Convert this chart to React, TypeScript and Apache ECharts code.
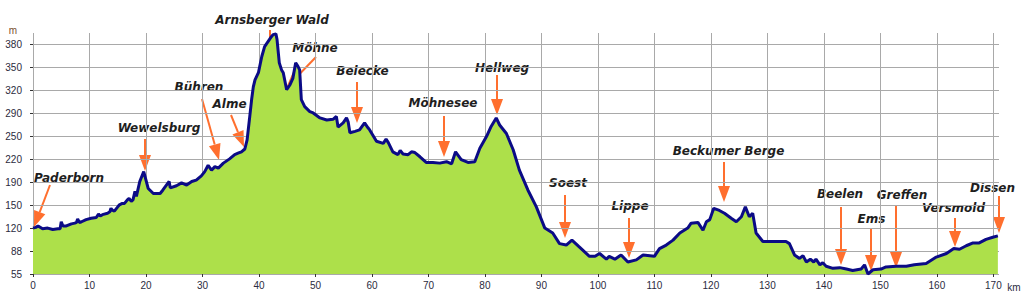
import React, { useEffect, useRef } from "react";
import * as echarts from "echarts";

// ---- data ----
const distanceKm = [
  0, 0.5, 0.9, 1.7, 2.6, 3.5, 4.4, 4.8, 5.0, 5.3, 5.9, 6.8, 7.4, 7.7, 7.9, 8.2, 8.6, 9.4,
  10.3, 11.2, 11.6, 11.9, 12.3, 13.2, 13.6, 13.8, 14.1, 14.4, 15.0, 15.3, 15.8, 16.2, 16.7,
  17.0, 17.4, 17.7, 18.05, 18.3, 18.9, 19.6, 20.4, 21.3, 22.5, 23.0, 24.1, 24.3, 25.4, 26.3,
  27.2, 28.1, 28.9, 29.8, 30.4, 31.0, 31.6, 32.2, 32.8, 33.7, 34.8, 35.7, 36.3, 36.9, 37.5,
  37.9, 38.3, 38.7, 39.0, 39.3, 39.9, 40.5, 41.0, 41.6, 42.2, 42.5, 43.0, 43.2, 43.6, 44.0,
  44.3, 44.9, 45.5, 46.0, 46.5, 46.9, 47.2, 47.5, 48.1, 49.0, 49.6, 50.8, 52.0, 53.1, 53.7,
  54.0, 54.9, 55.5, 55.8, 56.1, 57.0, 57.8, 58.7, 59.3, 59.6, 60.8, 62.0, 62.5, 62.9, 63.7,
  64.6, 65.0, 65.5, 66.4, 67.0, 67.6, 68.5, 69.6, 70.8, 72.0, 73.2, 74.1, 74.8, 75.8, 77.0,
  78.2, 79.1, 80.3, 81.1, 82.0, 82.6, 83.8, 85.0, 86.1, 87.6, 89.1, 90.6, 92.0, 93.2, 94.4,
  95.4, 96.6, 98.5, 99.5, 100.3, 101.5, 102.0, 103.0, 104.1, 105.3, 106.8, 108.0, 110.0,
  110.9, 112.1, 113.3, 114.5, 115.9, 116.5, 117.7, 118.6, 119.2, 119.8, 120.5, 121.5, 122.4,
  123.6, 124.5, 125.4, 126.1, 126.8, 127.4, 128.0, 129.2, 130.4, 133.3, 133.9, 134.8, 135.7,
  136.3, 136.9, 137.6, 138.2, 138.6, 139.3, 139.8, 140.4, 141.6, 142.8, 144.0, 145.1, 146.6,
  147.2, 147.8, 148.7, 150.1, 151.0, 152.8, 154.6, 156.0, 158.1, 159.9, 161.7, 163.0, 164.0,
  165.2, 166.4, 167.5, 168.7, 169.9, 170.8,
];
const elevationM = [
  120, 121, 123, 119, 120, 118, 119, 119, 129, 123, 123, 126, 127, 128, 133, 128, 129, 132,
  134, 135, 140, 137, 139, 141, 143, 148, 145, 144, 150, 153, 155, 155, 160,
  162, 158, 160, 172, 165, 186, 200, 176, 169, 169, 174, 186, 177, 180, 184,
  181, 186, 188, 194, 200, 209, 202, 207, 205, 212, 218, 224, 226, 228, 232,
  245, 273, 302, 320, 330, 340, 363, 377, 384, 391, 394, 395, 387, 354, 344,
  340, 316, 323, 332, 354, 349, 344, 302, 292, 285, 283, 276, 273, 274, 278,
  263, 269, 276, 270, 255, 257, 259, 269, 262, 259, 243, 240, 246, 241, 228,
  224, 230, 225, 224, 228, 227, 221, 213, 213, 212, 214, 211, 228, 217, 213,
  214, 233, 250, 264, 276, 266, 254, 231, 202, 174, 150, 120, 113, 98, 96,
  103, 94, 80, 80, 84, 76, 80, 76, 82, 72, 75, 82, 80,
  91, 96, 103, 113, 120, 127, 128, 117, 129, 132, 148, 145, 141,
  134, 129, 136, 150, 136, 141, 113, 101, 101, 101, 98, 82, 77,
  81, 72, 76, 72, 76, 68, 71, 66, 63, 64, 62, 60, 62,
  68, 55, 61, 62, 65, 66, 66, 68, 70, 79, 84, 91, 90,
  95, 99, 99, 104, 107, 109,
];
const yTickLabels = ["55", "88", "120", "150", "190", "220", "250", "290", "320", "350", "380"];
const xTickValues = [0, 10, 20, 30, 40, 50, 60, 70, 80, 90, 100, 110, 120, 130, 140, 150, 160, 170];
const placeNames = [
  "Paderborn", "Wewelsburg", "Bühren", "Alme", "Arnsberger Wald", "Möhne", "Belecke",
  "Möhnesee", "Hellweg", "Soest", "Lippe", "Beckumer Berge", "Beelen", "Ems", "Greffen",
  "Versmold", "Dissen",
];

// ---- layout of annotations (pixels): label centre, arrow start, arrow tip ----
const annotationLayout = [
  [69, 178, 50, 185, 34, 227],
  [159, 128, 145, 139, 145, 171],
  [199, 87, 202, 99, 219, 160],
  [229.5, 104, 231, 115, 244, 147],
  [272, 20, 270, 30, 270, 82],
  [315, 48, 316, 57, 286, 88],
  [362.5, 71, 357, 82, 357, 123],
  [443, 103, 444, 116, 444, 157],
  [502, 68, 497, 75, 497, 115],
  [568, 183, 565, 195, 565, 238],
  [630, 206, 629, 218, 629, 258],
  [728.5, 151, 724, 162, 724, 202],
  [840, 194, 841, 207, 841, 265],
  [871.5, 219, 871, 229, 871, 271],
  [902, 195, 896, 206, 896, 268],
  [953.5, 208, 955, 218, 955, 247],
  [992.5, 188, 999, 196, 999, 233],
];

const ARROW = "#ff6f2e";

function arrow(x1: number, y1: number, x2: number, y2: number) {
  const dx = x2 - x1;
  const dy = y2 - y1;
  const len = Math.hypot(dx, dy);
  const ux = dx / len;
  const uy = dy / len;
  const headLen = 16;
  const headW = 6;
  const bx = x2 - ux * headLen;
  const by = y2 - uy * headLen;
  return [
    {
      type: "line",
      shape: { x1, y1, x2: bx, y2: by },
      style: { stroke: ARROW, lineWidth: 2 },
      silent: true,
    },
    {
      type: "polygon",
      shape: {
        points: [
          [x2, y2],
          [bx - uy * headW, by + ux * headW],
          [bx + uy * headW, by - ux * headW],
        ],
      },
      style: { fill: ARROW },
      silent: true,
    },
  ];
}

export default function App() {
  const ref = useRef<HTMLDivElement>(null);

  useEffect(() => {
    document.body.style.margin = "0";
    const chart = echarts.init(ref.current!, undefined, { renderer: "svg" });
    const labelColor = "#2b2b40";
    const font = "'Liberation Sans', Arial, sans-serif";

    const graphics: any[] = [];
    placeNames.forEach((name, i) => {
      const [tx, ty, ax1, ay1, ax2, ay2] = annotationLayout[i];
      graphics.push(...arrow(ax1, ay1, ax2, ay2));
      graphics.push({
        type: "text",
        x: tx,
        y: ty,
        silent: true,
        style: {
          text: name,
          fill: "#1e1e1e",
          fontFamily: "'DejaVu Sans', Verdana, sans-serif",
          fontWeight: "bold",
          fontStyle: "italic",
          fontSize: 12,
          align: "center",
          verticalAlign: "middle",
        },
      });
    });
    graphics.push({
      type: "text",
      x: 13,
      y: 30,
      style: {
        text: "m",
        fill: "#7a5030",
        fontFamily: font,
        fontSize: 10,
        align: "center",
        verticalAlign: "middle",
      },
    });
    graphics.push({
      type: "text",
      x: 1014,
      y: 287,
      style: {
        text: "km",
        fill: labelColor,
        fontFamily: font,
        fontSize: 10,
        align: "center",
        verticalAlign: "middle",
      },
    });

    const yLabelIdx = yTickLabels.map((_, i) => i * 2);

    chart.setOption({
      animation: false,
      backgroundColor: "#ffffff",
      grid: { left: 33, right: 25, top: 33, bottom: 24, containLabel: false },
      xAxis: {
        type: "value",
        min: 0,
        max: 171,
        interval: 5,
        axisLine: { show: false },
        axisTick: {
          show: true,
          length: 3,
          customValues: xTickValues,
          lineStyle: { color: "#333" },
        },
        axisLabel: {
          customValues: xTickValues,
          formatter: (v: number) => (v % 10 === 0 && v <= 170 ? String(v) : ""),
          color: labelColor,
          fontSize: 10,
          fontFamily: font,
          margin: 6,
        },
        splitLine: { show: true, lineStyle: { color: "#a9a9a9", width: 1 } },
      },
      yAxis: [
        { type: "value", min: 55, max: 396.25, show: false },
        {
          type: "value",
          min: 0,
          max: 21,
          interval: 1,
          position: "left",
          axisLine: { show: false },
          axisTick: {
            show: true,
            length: 3,
            customValues: yLabelIdx,
            lineStyle: { color: "#333" },
          },
          axisLabel: {
            customValues: yLabelIdx,
            formatter: (v: number) =>
              v % 2 === 0 && v / 2 < yTickLabels.length ? yTickLabels[v / 2] : "",
            color: labelColor,
            fontSize: 10,
            fontFamily: font,
            margin: 11,
          },
          splitLine: { show: true, lineStyle: { color: "#a9a9a9", width: 1 } },
        },
      ],
      series: [
        {
          type: "line",
          yAxisIndex: 0,
          data: distanceKm.map((d, i) => [d, elevationM[i]]),
          showSymbol: false,
          symbol: "none",
          lineStyle: { color: "#0b0b86", width: 3 },
          areaStyle: { color: "#ade04a", opacity: 1, origin: "start" },
          z: 3,
        },
      ],
      graphic: graphics,
    });

    return () => chart.dispose();
  }, []);

  return (
    <div
      ref={ref}
      style={{ position: "absolute", left: 0, top: 0, width: 1024, height: 298 }}
    />
  );
}
